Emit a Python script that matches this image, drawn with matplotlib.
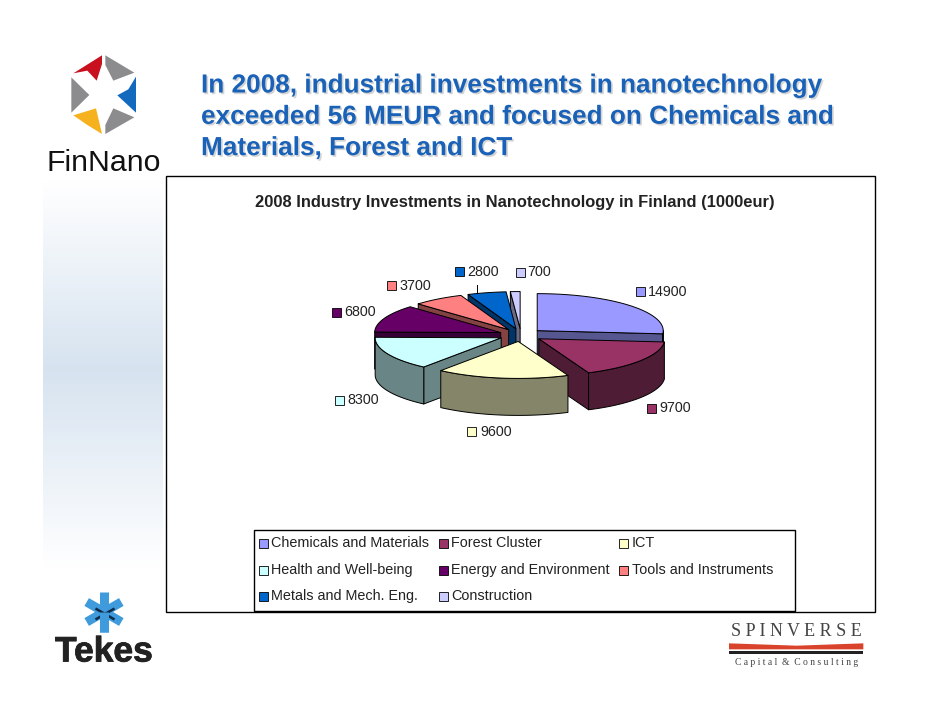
#!/usr/bin/env python3
"""FinNano slide: 2008 industry investments as an exploded pseudo-3D pie."""

import matplotlib
matplotlib.use("Agg")
import matplotlib.pyplot as plt
import matplotlib.patches as mpatches
import matplotlib.patheffects as pe
import numpy as np

plt.rcParams["font.family"] = ["Liberation Sans", "DejaVu Sans"]

# data
categories = ["Chemicals and Materials", "Forest Cluster", "ICT",
              "Health and Well-being", "Energy and Environment", "Tools and Instruments",
              "Metals and Mech. Eng.", "Construction"]
values = [14900, 9700, 9600, 8300, 6800, 3700, 2800, 700]
top_colors = ["#9999FF", "#993366", "#FFFFCC", "#CCFFFF", "#660066", "#FF8080", "#0066CC", "#CCCCFF"]
side_colors = ["#565690", "#4F1C35", "#85856A", "#698585", "#350035", "#854242", "#003569", "#6A6A85"]

headline = ["In 2008, industrial investments in nanotechnology",
            "exceeded 56 MEUR and focused on Chemicals and",
            "Materials, Forest and ICT"]
chart_title = "2008 Industry Investments in Nanotechnology in Finland (1000eur)"

# pie geometry, in slide pixels
CX, CY = 521, 335
RX, RY = 126, 37
DEPTH = 37
EXPLODE = 22
DRAW_ORDER = [7, 6, 5, 4, 0, 3, 1, 2]

# swatch x, text x, y of each value label
label_x_swatch = [640, 651, 471, 339, 336, 391, 459, 520]
label_x_text = [648, 659, 480, 347, 344, 399, 467, 527]
label_y = [291, 408, 431, 400, 312, 285, 271, 272]

fig = plt.figure(figsize=(9.42, 7.28), dpi=100)
ax = fig.add_axes([0, 0, 1, 1])
ax.set_xlim(0, 942)
ax.set_ylim(728, 0)
ax.axis("off")


def zoomed(points, x0, y0):
    # crop coordinates (3x) -> slide pixels
    return [(x0 + x / 3, y0 + y / 3) for x, y in points]


# ─── slide background ──────────────────────────────────────────────────────────
ramp = np.interp(np.linspace(180, 568, 200), [180, 370, 568], [0.0, 1.0, 0.0])[:, None, None]
tint = np.array([0.84, 0.89, 0.94])[None, None, :]
bg = 1 - (1 - tint) * ramp
ax.imshow(bg, extent=(43, 163, 568, 180), aspect="auto", zorder=0, interpolation="bilinear")
ax.set_xlim(0, 942)
ax.set_ylim(728, 0)

for i, line in enumerate(headline):
    ax.text(201, 85.5 + i * 31.3, line, fontsize=18.85, fontweight="bold", color="#1A62B8",
            va="center", ha="left", zorder=3,
            path_effects=[pe.withSimplePatchShadow(offset=(1.2, -1.2), shadow_rgbFace="#AAAAAA", alpha=0.5)])

# ─── chart frame ───────────────────────────────────────────────────────────────
ax.add_patch(mpatches.Rectangle((166, 176), 709, 435.5, fc="white", ec="black", lw=1, zorder=1))
ax.text(514.5, 203, chart_title, fontsize=11.9, fontweight="bold", ha="center", va="center",
        color="#222222", zorder=3)


# ─── pie ───────────────────────────────────────────────────────────────────────
def rim_point(ox, oy, deg):
    a = np.radians(deg)
    return ox + RX * np.sin(a), oy - RY * np.cos(a)


def draw_slice(start, end, top, side, z):
    mid = np.radians((start + end) / 2)
    ox = CX + EXPLODE * np.sin(mid)
    oy = CY - EXPLODE * RY / RX * np.cos(mid)
    kw = dict(ec="black", lw=0.7, joinstyle="round")
    # only the walls that face the viewer: radial ones, then the front of the rim, then the lid
    for deg, facing in ((start, np.sin(np.radians(start)) < 0), (end, np.sin(np.radians(end)) > 0)):
        if not facing:
            continue
        px, py = rim_point(ox, oy, deg)
        wall = [(ox, oy), (px, py), (px, py + DEPTH), (ox, oy + DEPTH)]
        ax.add_patch(mpatches.Polygon(wall, fc=side, zorder=z, **kw))
    front_a, front_b = max(start, 90), min(end, 270)
    if front_a < front_b:
        arc = np.radians(np.linspace(front_a, front_b, 60))
        xs = ox + RX * np.sin(arc)
        ys = oy - RY * np.cos(arc)
        outer = np.r_[np.c_[xs, ys], np.c_[xs, ys + DEPTH][::-1]]
        ax.add_patch(mpatches.Polygon(outer, fc=side, zorder=z, **kw))
    arc = np.radians(np.linspace(start, end, 60))
    lid = np.r_[[[ox, oy]], np.c_[ox + RX * np.sin(arc), oy - RY * np.cos(arc)]]
    ax.add_patch(mpatches.Polygon(lid, fc=top, zorder=z + 0.1, **kw))


edges = np.r_[0, np.cumsum(values)] / sum(values) * 360
for n, idx in enumerate(DRAW_ORDER):
    draw_slice(edges[idx], edges[idx + 1], top_colors[idx], side_colors[idx], 2 + n * 0.2)

# leader of the 2800 label
ax.plot([477, 477], [285, 295], color="black", lw=0.7, zorder=2)

SW = 9
for val, col, xs_, xt, y in zip(values, top_colors, label_x_swatch, label_x_text, label_y):
    ax.add_patch(mpatches.Rectangle((xs_ - SW / 2, y - SW / 2), SW, SW, fc=col, ec="black", lw=0.6, zorder=5))
    ax.text(xt, y + 0.5, str(val), fontsize=10.3, ha="left", va="center", color="#222222", zorder=5)

# ─── legend ────────────────────────────────────────────────────────────────────
ax.add_patch(mpatches.Rectangle((253.5, 530), 541, 81, fc="white", ec="black", lw=1, zorder=4))
col_swatch = [263, 443, 623]
col_text = [271, 451, 632]
row_y = [542, 569, 595]
for i, (name, col) in enumerate(zip(categories, top_colors)):
    r, c = divmod(i, 3)
    ax.add_patch(mpatches.Rectangle((col_swatch[c] - SW / 2, row_y[r] - SW / 2 + 1), SW, SW,
                                    fc=col, ec="black", lw=0.6, zorder=5))
    ax.text(col_text[c], row_y[r] + 1, name, fontsize=10.4, ha="left", va="center", color="#222222", zorder=5)

# ─── FinNano logo ──────────────────────────────────────────────────────────────
logo = [
    ("#C8101E", [(220, 130), (306, 76), (306, 102), (290, 152), (262, 122)]),
    ("#8C8C8E", [(316, 76), (403, 128), (340, 152), (316, 105)]),
    ("#1269BE", [(408, 140), (408, 248), (352, 196), (385, 178)]),
    ("#8C8C8E", [(214, 142), (268, 195), (214, 248)]),
    ("#F5B21E", [(220, 256), (288, 235), (306, 312), (262, 285)]),
    ("#8C8C8E", [(316, 312), (316, 285), (340, 235), (403, 262)]),
]
for col, pts in logo:
    ax.add_patch(mpatches.Polygon(zoomed(pts, 0, 30), fc=col, ec="none", zorder=3))
ax.text(104, 163, "FinNano", fontsize=21.8, ha="center", va="center", color="#111111", zorder=3)

# ─── Tekes logo ────────────────────────────────────────────────────────────────
for deg in (90, 30, 150):
    a = np.radians(deg)
    dx, dy = 20 * np.cos(a), 20 * np.sin(a)
    ax.plot([104 - dx, 104 + dx], [612 - dy, 612 + dy], color="#3F9BDC",
            lw=6.5, solid_capstyle="butt", zorder=3)
    if deg != 90:
        ax.plot([104 - dx * 0.55 + 1, 104 + dx * 0.55 + 1], [612 - dy * 0.55 + 2, 612 + dy * 0.55 + 2],
                color="#0E2A4A", lw=1.8, solid_capstyle="butt", zorder=3.1)
ax.plot([104, 104], [612, 632], color="#3F9BDC", lw=6.5, solid_capstyle="butt", zorder=3.2)
ax.text(104, 652, "Tekes", fontsize=25.5, fontweight="bold", ha="center", va="center", color="#222222", zorder=3,
        path_effects=[pe.withStroke(linewidth=0.6, foreground="#222222")])

# ─── Spinverse logo ────────────────────────────────────────────────────────────
ax.text(796.5, 632, "S P I N V E R S E", fontsize=13, family="Liberation Serif", ha="center", va="center",
        color="#444444", zorder=3)
band = zoomed([(87, 130), (290, 137), (490, 130), (490, 148), (87, 148)], 700, 600)
ax.add_patch(mpatches.Polygon(band, fc="#D9432B", ec="none", zorder=3))
ax.add_patch(mpatches.Rectangle((729, 651), 134, 2.5, fc="#222222", ec="none", zorder=3))
ax.text(796.5, 662.5, "C a p i t a l  &  C o n s u l t i n g", fontsize=6.9, family="Liberation Serif",
        ha="center", va="center", color="#444444", zorder=3)

fig.savefig("out.png", dpi=100)
plt.close(fig)
